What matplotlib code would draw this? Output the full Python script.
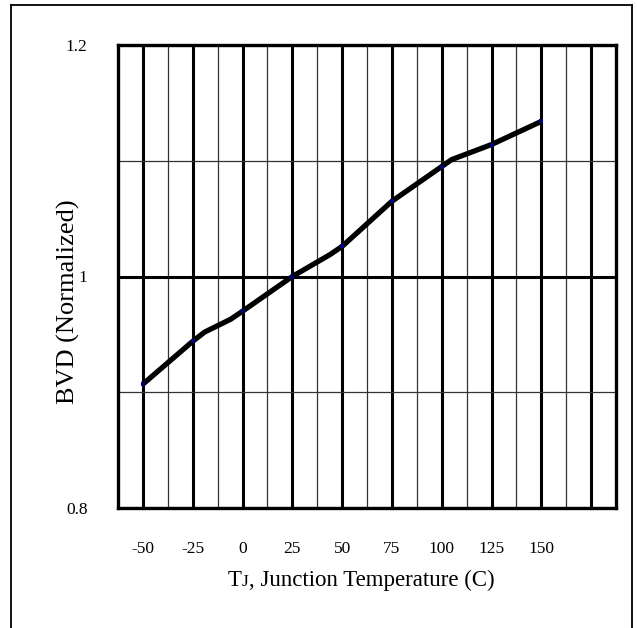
import matplotlib
matplotlib.use("Agg")
import matplotlib.pyplot as plt
from matplotlib.offsetbox import TextArea, HPacker, AnchoredOffsetbox
from matplotlib.lines import Line2D

# Data
temp_line = [-50, -25, -19, -6, 0, 25, 44, 50, 75, 100, 105, 125, 150]
bvd_line = [0.907, 0.944, 0.952, 0.963, 0.970, 1.000, 1.019, 1.026, 1.065, 1.095, 1.101, 1.114, 1.134]
temp_pts = [-50, -25, 0, 25, 50, 75, 100, 125, 150]
bvd_pts = [0.907, 0.944, 0.970, 1.000, 1.026, 1.065, 1.095, 1.114, 1.134]
xtick_vals = [-50, -25, 0, 25, 50, 75, 100, 125, 150, 175]
xtick_labels = ["-50", "-25", "0", "25", "50", "75", "100", "125", "150", ""]
ytick_vals = [0.8, 1.0, 1.2]
ytick_labels = ["0.8", "1", "1.2"]

plt.rcParams['font.family'] = ['Liberation Serif', 'DejaVu Serif']

fig = plt.figure(figsize=(6.37, 6.28), dpi=100)
ax = fig.add_axes([118/637, 1-508/628, (616-118)/637, (508-45)/628])

ax.set_xlim(-62.5, 187.5)
ax.set_ylim(0.8, 1.2)

ax.set_xticks(xtick_vals)
ax.set_xticklabels(xtick_labels, fontsize=12.5)
ax.set_xticks([t + 12.5 for t in [-50, -25, 0, 25, 50, 75, 100, 125, 150]], minor=True)
ax.set_yticks(ytick_vals)
ax.set_yticklabels(ytick_labels, fontsize=12.5)
ax.set_yticks([0.9, 1.1], minor=True)

ax.tick_params(which='both', length=0)
ax.tick_params(axis='x', pad=24)
ax.tick_params(axis='y', pad=22)

ax.grid(which='major', color='black', linewidth=2.2)
ax.grid(which='minor', color='#333333', linewidth=0.9)
ax.set_axisbelow(True)
for s in ax.spines.values():
    s.set_linewidth(2.4)
    s.set_color('black')

ax.plot(temp_line, bvd_line, color='black', linewidth=3.8, solid_capstyle='butt', zorder=3)
ax.plot(temp_pts, bvd_pts, linestyle='none', marker='s', markersize=2.8,
        color='#000080', markeredgewidth=0, zorder=4)

ax.set_ylabel("BVD (Normalized)", fontsize=19)
ax.yaxis.set_label_coords((80-118)/498, (508-302)/463)

# x label with small-cap J
parts = HPacker(children=[TextArea("T", textprops=dict(fontsize=16.5, family='Liberation Serif')),
                          TextArea("J", textprops=dict(fontsize=12.5, family='Liberation Serif')),
                          TextArea(", Junction Temperature (C)", textprops=dict(fontsize=16.5, family='Liberation Serif'))],
                align="baseline", pad=0, sep=0)
box = AnchoredOffsetbox(loc='center', child=parts, pad=0, frameon=False,
                        bbox_to_anchor=(361/637, 1-580/628), bbox_transform=fig.transFigure)
fig.add_artist(box)

# outer frame
fx0, fx1, fy0 = 11/637, 632/637, 1-5/628
fig.add_artist(Line2D([fx0, fx0], [0, fy0], transform=fig.transFigure, color='black', linewidth=1.3))
fig.add_artist(Line2D([fx0, fx1], [fy0, fy0], transform=fig.transFigure, color='black', linewidth=1.3))
fig.add_artist(Line2D([fx1, fx1], [0, fy0], transform=fig.transFigure, color='black', linewidth=1.3))

fig.savefig("out.png", dpi=100)
